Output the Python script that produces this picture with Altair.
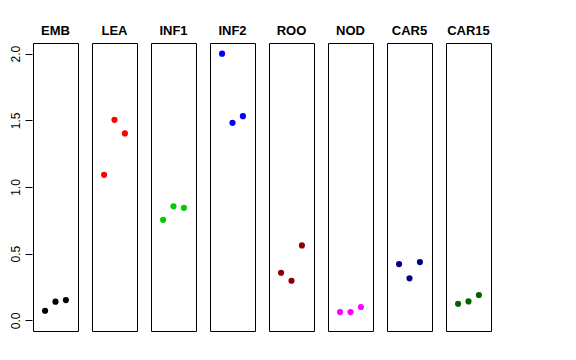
import altair as alt
import pandas as pd

tissues = ["EMB", "LEA", "INF1", "INF2", "ROO", "NOD", "CAR5", "CAR15"]
colors = ["#000000", "#FF0000", "#00CD00", "#0000FF", "#8B0000", "#FF00FF", "#00008B", "#006400"]
replicate = [1, 2, 3]
values = {
    "EMB": [0.072, 0.140, 0.152],
    "LEA": [1.091, 1.504, 1.402],
    "INF1": [0.754, 0.855, 0.844],
    "INF2": [2.000, 1.481, 1.531],
    "ROO": [0.357, 0.297, 0.562],
    "NOD": [0.062, 0.062, 0.100],
    "CAR5": [0.422, 0.315, 0.437],
    "CAR15": [0.124, 0.142, 0.190],
}

rows = []
for t in tissues:
    for r, v in zip(replicate, values[t]):
        rows.append({"tissue": t, "rep": r, "value": v})
df = pd.DataFrame(rows)

font = "Liberation Sans"

base = alt.Chart(df).mark_circle(size=38, opacity=1).encode(
    x=alt.X("rep:Q", scale=alt.Scale(domain=[-0.16, 4.16], nice=False, zero=False), axis=None),
    y=alt.Y(
        "value:Q",
        scale=alt.Scale(domain=[-0.08, 2.08], nice=False, zero=False),
        axis=alt.Axis(
            values=[0, 0.5, 1, 1.5, 2],
            format=".1f",
            title=None,
            grid=False,
            domain=False,
            tickSize=7,
            tickColor="#000000",
            labelAngle=-90,
            labelAlign="center",
            labelBaseline="bottom",
            labelPadding=3,
            labelFont=font,
            labelFontSize=12,
            labelColor="#000000",
        ),
    ),
    color=alt.Color("tissue:N", scale=alt.Scale(domain=tissues, range=colors), legend=None),
).properties(width=45, height=288)

chart = base.facet(
    column=alt.Column(
        "tissue:N",
        sort=tissues,
        title=None,
        header=alt.Header(
            labelFont=font,
            labelFontSize=13,
            labelFontWeight="bold",
            labelColor="#000000",
            labelPadding=4,
        ),
    ),
    spacing=12,
).configure_view(stroke="#000000", strokeWidth=1).properties(
    padding={"left": 0, "top": 17, "right": 5, "bottom": 5},
)

chart.save("out.html", embed_options={"renderer": "svg", "actions": False})
